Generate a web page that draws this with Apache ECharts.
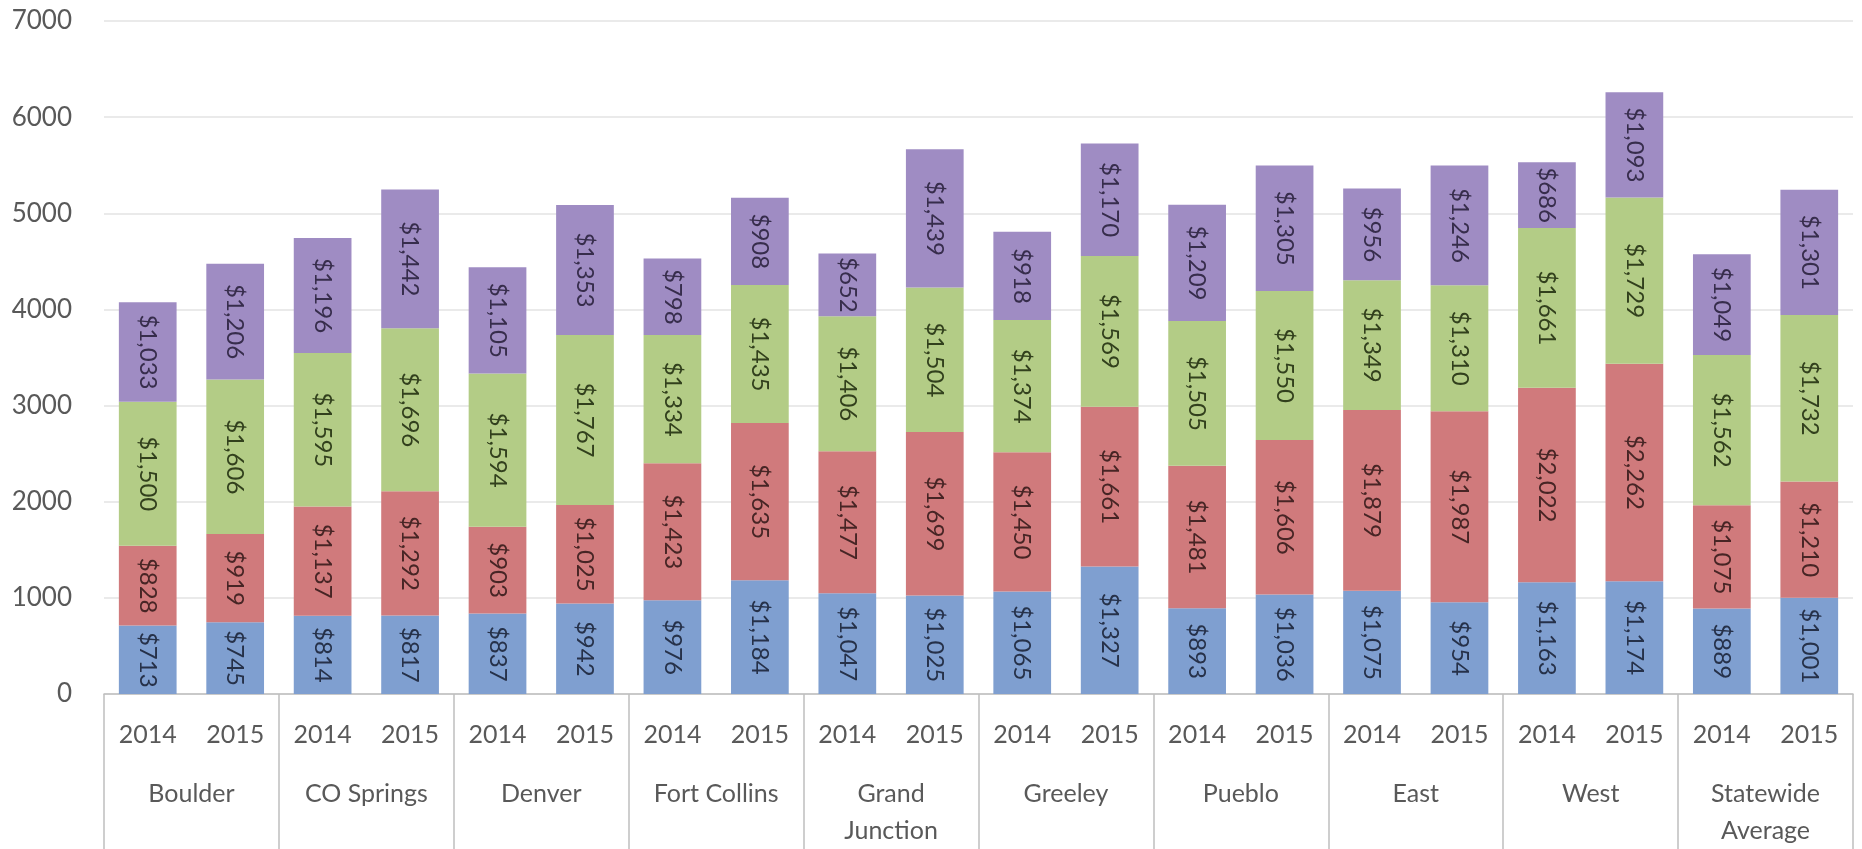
<!DOCTYPE html>
<html>
<head>
<meta charset="utf-8">
<script src="https://cdn.jsdelivr.net/npm/echarts@6/dist/echarts.min.js"></script>
<style>
html,body{margin:0;padding:0;background:#fff;}
#chart{width:1862px;height:849px;}
</style>
</head>
<body>
<div id="chart"></div>
<script>
const regions = ['Boulder','CO Springs','Denver','Fort Collins','Grand\nJunction','Greeley','Pueblo','East','West','Statewide\nAverage'];
const years = ['2014','2015','2014','2015','2014','2015','2014','2015','2014','2015','2014','2015','2014','2015','2014','2015','2014','2015','2014','2015'];
const seriesBlue   = [713,745,814,817,837,942,976,1184,1047,1025,1065,1327,893,1036,1075,954,1163,1174,889,1001];
const seriesRed    = [828,919,1137,1292,903,1025,1423,1635,1477,1699,1450,1661,1481,1606,1879,1987,2022,2262,1075,1210];
const seriesGreen  = [1500,1606,1595,1696,1594,1767,1334,1435,1406,1504,1374,1569,1505,1550,1349,1310,1661,1729,1562,1732];
const seriesPurple = [1033,1206,1196,1442,1105,1353,798,908,652,1439,918,1170,1209,1305,956,1246,686,1093,1049,1301];
const yTicks = [0,1000,2000,3000,4000,5000,6000,7000];

const FONT = 'Lato';
const colors = ['#7f9fd0','#d07a7c','#b3cc86','#9f8cc3'];
const labelColors = ['#263149','#472525','#32401d','#372d4c'];
const dataSets = [seriesBlue, seriesRed, seriesGreen, seriesPurple];

const chart = echarts.init(document.getElementById('chart'));
chart.setOption({
  animation: false,
  backgroundColor: '#ffffff',
  grid: {left: 104, right: 9, top: 21, bottom: 154, containLabel: false},
  xAxis: [
    {
      type: 'category', data: years, position: 'bottom',
      axisLine: {show: true, lineStyle: {color: '#bfbfbf', width: 1.5}},
      axisTick: {show: false},
      axisLabel: {color: '#595959', fontFamily: FONT, fontSize: 25, margin: 28, interval: 0}
    },
    {
      type: 'category', data: regions, position: 'bottom',
      axisLine: {show: false},
      axisTick: {show: true, length: 170, lineStyle: {color: '#bfbfbf', width: 1.5}},
      axisLabel: {color: '#595959', fontFamily: FONT, fontSize: 25, margin: 81, lineHeight: 37, interval: 0, verticalAlign: 'top'}
    }
  ],
  yAxis: {
    type: 'value', min: yTicks[0], max: yTicks[yTicks.length-1], interval: 1000,
    axisLine: {show: false}, axisTick: {show: false},
    splitLine: {lineStyle: {color: '#e3e3e3', width: 1.5}},
    axisLabel: {color: '#595959', fontFamily: FONT, fontSize: 26, margin: 32, formatter: v => String(v)}
  },
  series: dataSets.map((d, i) => ({
    type: 'bar', stack: 'total', xAxisIndex: 0,
    data: d,
    barCategoryGap: '34%',
    itemStyle: {color: colors[i]},
    label: {
      show: true, position: 'inside', rotate: -90,
      fontFamily: FONT, fontSize: 24, color: labelColors[i],
      formatter: p => '$' + p.value.toLocaleString('en-US')
    }
  }))
});
</script>
</body>
</html>
